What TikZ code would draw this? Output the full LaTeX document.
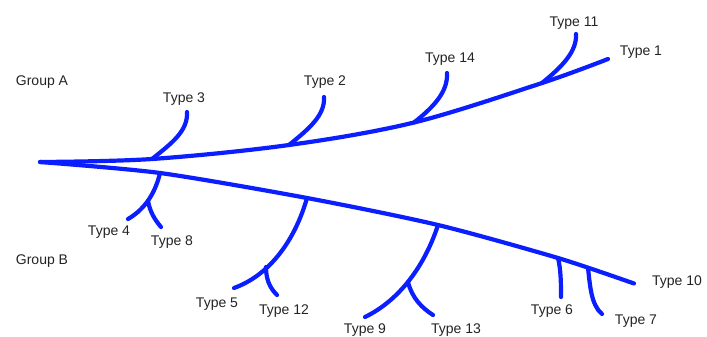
\documentclass[tikz,border=0pt]{standalone}
\usepackage{fontspec}
\setmainfont{Liberation Sans}
\definecolor{branch}{RGB}{10,30,255}
\definecolor{lbl}{RGB}{35,35,35}
\begin{document}
\begin{tikzpicture}[x=1pt,y=-1pt,
  br/.style={draw=branch,line width=4.2pt,line cap=round},
  lab/.style={text=lbl,font=\fontsize{14}{16}\selectfont,inner sep=0pt}]
\useasboundingbox (0,0) rectangle (707,337);
% coordinates
\coordinate (root) at (40,162);
\coordinate (j3) at (152,159);
\coordinate (j2) at (289,145);
\coordinate (j14) at (414,122.5);
\coordinate (j11) at (542,83);
\coordinate (e1) at (608,59);
\coordinate (e3) at (187,112);
\coordinate (e2) at (324,97);
\coordinate (e14) at (447,73);
\coordinate (e11) at (576,34);
\coordinate (j48) at (160,173);
\coordinate (j512) at (307,198);
\coordinate (j913) at (438,225);
\coordinate (j6) at (558,258);
\coordinate (j7) at (588,268);
\coordinate (e10) at (634,283.5);
\coordinate (s8) at (148,201);
\coordinate (e4) at (128,219);
\coordinate (e8) at (161,227);
\coordinate (s12) at (266,267);
\coordinate (e5) at (234,288);
\coordinate (e12) at (277,295);
\coordinate (s13) at (408,282);
\coordinate (e9) at (365,317);
\coordinate (e13) at (433,315);
\coordinate (e6) at (561,297);
\coordinate (e7) at (602,314);
% main branches
\draw[br] plot[smooth,tension=0.55] coordinates {(root) (j3) (j2) (j14) (j11) (e1)};
\draw[br] plot[smooth,tension=0.45] coordinates {(root) (j48) (j512) (j913) (j6) (e10)};
% upper branches
\draw[br] (j3) .. controls (172,143) and (188,131) .. (e3);
\draw[br] (j2) .. controls (310,128) and (325,115) .. (e2);
\draw[br] (j14) .. controls (435,106) and (448,91) .. (e14);
\draw[br] (j11) .. controls (563,66) and (577,51) .. (e11);
% lower branches
\draw[br] (j48) .. controls (156,190) and (147,208) .. (e4);
\draw[br] (s8) .. controls (150,212) and (155,220) .. (e8);
\draw[br] (j512) .. controls (295,240) and (270,275) .. (e5);
\draw[br] (s12) .. controls (266,280) and (270,288) .. (e12);
\draw[br] (j913) .. controls (425,265) and (400,300) .. (e9);
\draw[br] (s13) .. controls (412,298) and (422,308) .. (e13);
\draw[br] (j6) .. controls (561,270) and (561,285) .. (e6);
\draw[br] (j7) .. controls (590,285) and (591,305) .. (e7);
% labels
\node[lab] (gA) at (42,82) {Group A};
\node[lab] (gB) at (42,261) {Group B};
\node[lab] (t1) at (641,52) {Type 1};
\node[lab] (t2) at (325,82) {Type 2};
\node[lab] (t3) at (184,99) {Type 3};
\node[lab] (t4) at (109,232) {Type 4};
\node[lab] (t5) at (217,304) {Type 5};
\node[lab] (t6) at (552,311) {Type 6};
\node[lab] (t7) at (636,321) {Type 7};
\node[lab] (t8) at (172,242) {Type 8};
\node[lab] (t9) at (365,330) {Type 9};
\node[lab] (t10) at (677,282) {Type 10};
\node[lab] (t11) at (574,23) {Type 11};
\node[lab] (t12) at (284,311) {Type 12};
\node[lab] (t13) at (456,330) {Type 13};
\node[lab] (t14) at (450,59) {Type 14};
\end{tikzpicture}
\end{document}
